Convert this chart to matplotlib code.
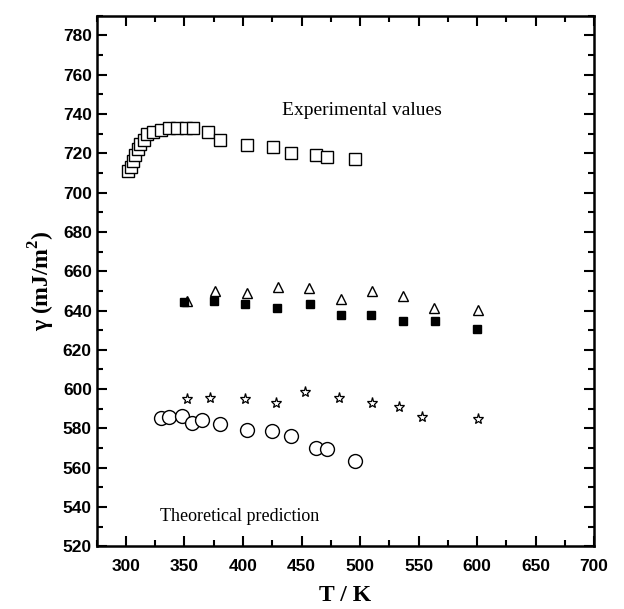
import matplotlib
matplotlib.use("Agg")
import matplotlib.pyplot as plt
from matplotlib.ticker import MultipleLocator

plt.rcParams['mathtext.fontset'] = 'custom'
plt.rcParams['mathtext.rm'] = 'Liberation Serif'
plt.rcParams['mathtext.bf'] = 'Liberation Serif:bold'

# experimental values (open squares)
exp_T = [302, 304, 306, 308, 310, 312, 315, 318, 323, 330, 337, 344, 351, 357,
         370, 380, 403, 426, 441, 462, 472, 496]
exp_g = [711, 713, 716, 719, 722, 725, 727, 730, 731, 732, 733, 733, 733, 733,
         731, 727, 724, 723, 720, 719, 718, 717]

# triangles
tri_T = [352, 376, 403, 430, 456, 484, 510, 537, 563, 601]
tri_g = [645, 650, 649, 652, 651.5, 646, 650, 647.5, 641.5, 640.5]

# filled squares
sq_T = [350, 375, 402, 429, 457, 484, 509, 537, 564, 600]
sq_g = [644.5, 645, 643.5, 641.5, 643.5, 637.5, 637.5, 634.5, 634.5, 630.5]

# stars
star_T = [352, 372, 402, 428, 453, 482, 510, 533, 553, 601]
star_g = [595, 595.5, 595, 593, 598.5, 595.5, 593, 591, 586, 585]

# circles (theoretical prediction)
circ_T = [330, 337, 348, 356, 365, 380, 403, 425, 441, 462, 472, 496]
circ_g = [585.5, 586, 586.5, 583, 584.5, 582, 579, 578.5, 576, 570, 569.5, 563.5]

fig = plt.figure(figsize=(6.24, 6.09), dpi=100)
ax = fig.add_axes([0.155, 0.103, 0.797, 0.871])

ax.plot(exp_T, exp_g, ls='none', marker='s', ms=8, mfc='white', mec='black', mew=1.0)
ax.plot(tri_T, tri_g, ls='none', marker='^', ms=7.5, mfc='white', mec='black', mew=1.0)
ax.plot(sq_T, sq_g, ls='none', marker='s', ms=6, mfc='black', mec='black')
ax.plot(star_T, star_g, ls='none', marker='*', ms=8, mfc='white', mec='black', mew=0.9)
ax.plot(circ_T, circ_g, ls='none', marker='o', ms=10, mfc='white', mec='black', mew=1.0)

ax.text(502, 742, 'Experimental values', ha='center', va='center',
        family='Liberation Serif', fontsize=14)
ax.text(397, 535, 'Theoretical prediction', ha='center', va='center',
        family='Liberation Serif', fontsize=13)

ax.set_xlim(275, 700)
ax.set_ylim(520, 790)
ax.xaxis.set_minor_locator(MultipleLocator(25))
ax.yaxis.set_minor_locator(MultipleLocator(10))
ax.set_xticks(range(300, 701, 50))
ax.set_yticks(range(520, 781, 20))

ax.tick_params(which='both', direction='in', top=True, right=True, width=1.5)
ax.tick_params(which='major', length=7)
ax.tick_params(which='minor', length=4)
ax.tick_params(axis='x', which='major', pad=9)
for lab in ax.get_xticklabels() + ax.get_yticklabels():
    lab.set_family('Liberation Sans')
    lab.set_fontweight('bold')
    lab.set_fontsize(12.5)
for sp in ax.spines.values():
    sp.set_linewidth(1.8)

ax.set_xlabel('T / K', family='Liberation Serif', fontweight='bold', fontsize=17,
              labelpad=8)
ax.set_ylabel(r'γ (mJ/m$^\mathbf{2}$)', family='Liberation Serif',
              fontweight='bold', fontsize=17)

fig.savefig('out.png', dpi=100)
